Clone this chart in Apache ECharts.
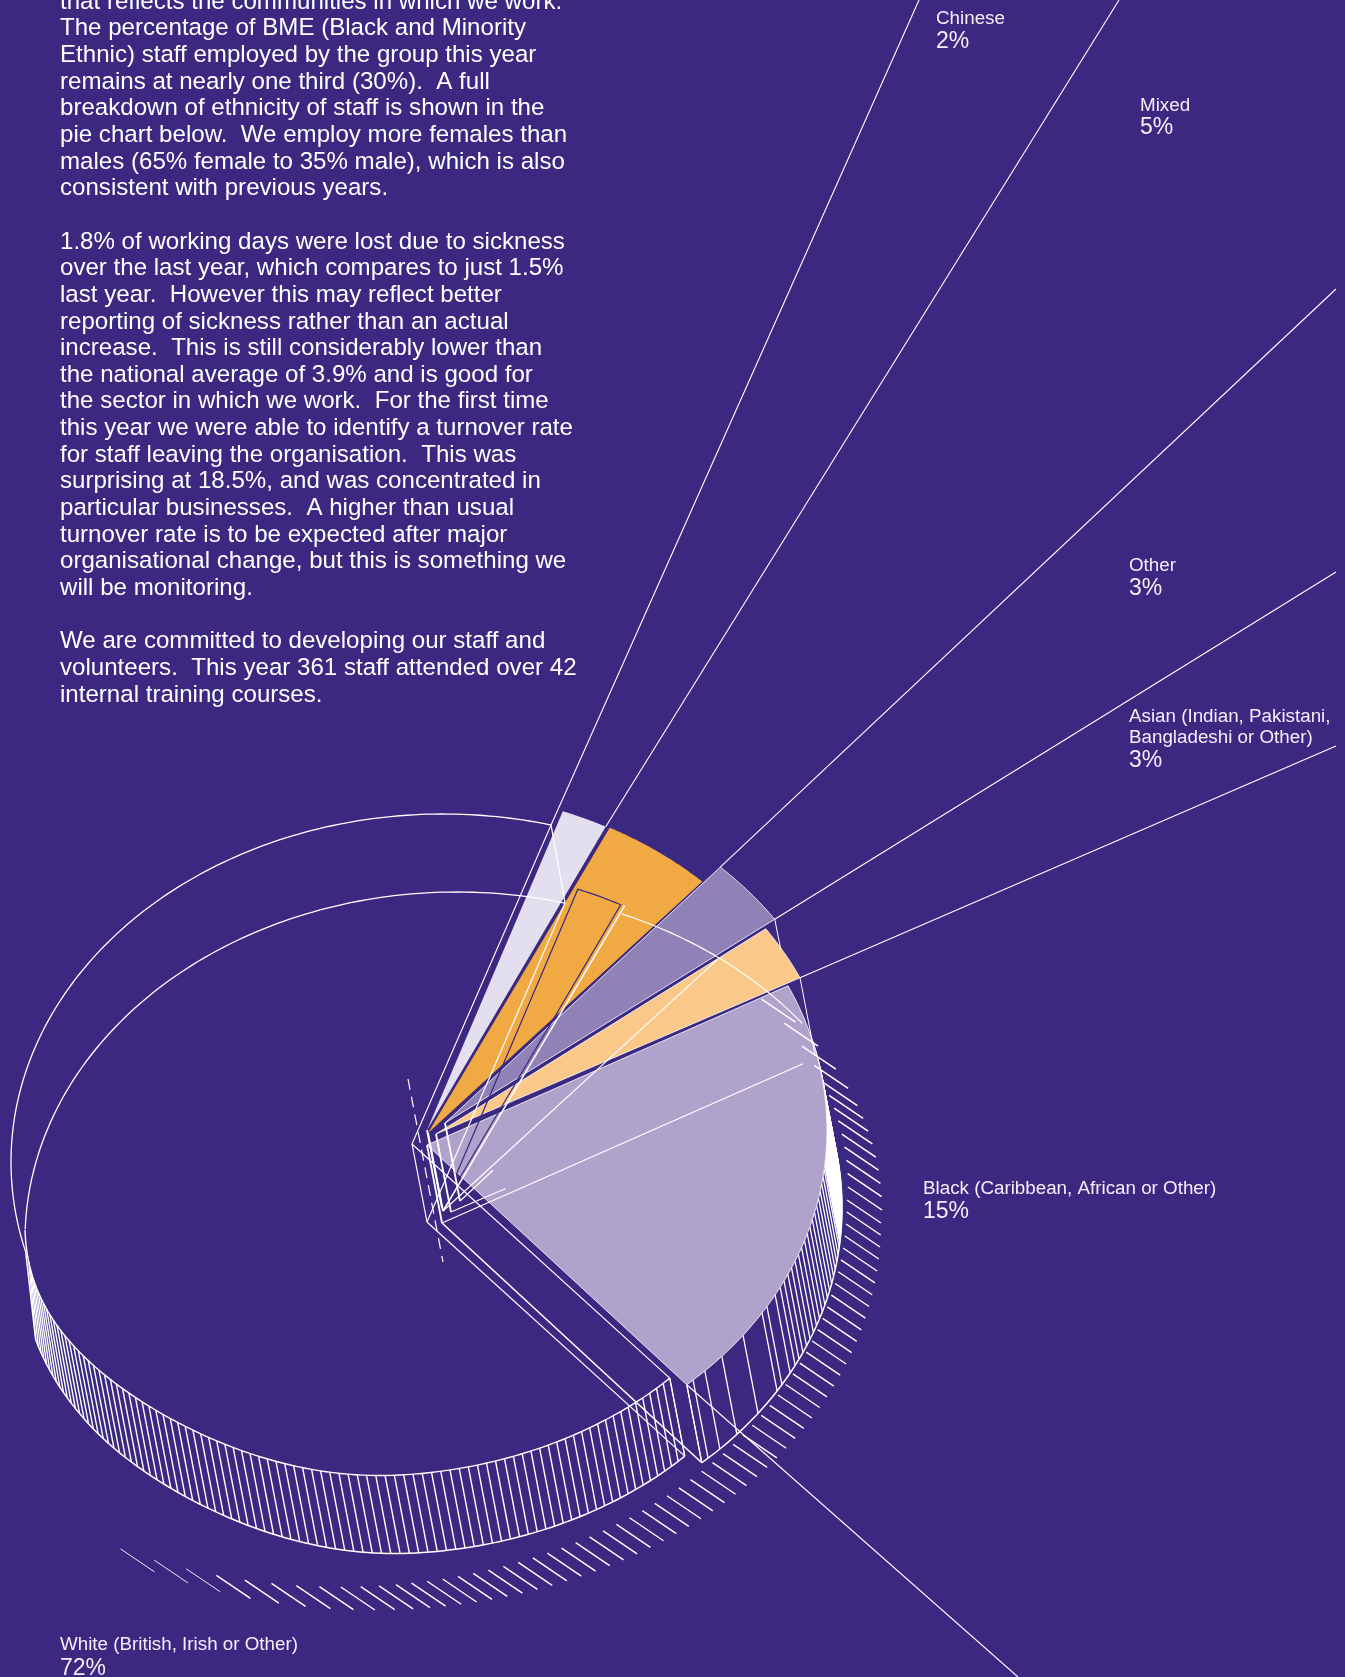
<!DOCTYPE html>
<html>
<head>
<meta charset="utf-8">
<style>html,body{margin:0;padding:0;background:#3A2881}#chart{width:1345px;height:1677px}</style>
<script src="https://cdn.jsdelivr.net/npm/echarts@6/dist/echarts.min.js"></script>
</head>
<body>
<div id="chart"></div>
<script>
// Staff ethnicity shares, in percent, in the order the slices run round the pie.
const categories = [
  'Chinese',
  'Mixed',
  'Other',
  'Asian (Indian, Pakistani,\nBangladeshi or Other)',
  'Black (Caribbean, African or Other)',
  'White (British, Irish or Other)'
];
const shares = [2, 5, 3, 3, 15, 72];

const reportText = [
  'that reflects the communities in which we work.',
  'The percentage of BME (Black and Minority',
  'Ethnic) staff employed by the group this year',
  'remains at nearly one third (30%).  A full',
  'breakdown of ethnicity of staff is shown in the',
  'pie chart below.  We employ more females than',
  'males (65% female to 35% male), which is also',
  'consistent with previous years.',
  '',
  '1.8% of working days were lost due to sickness',
  'over the last year, which compares to just 1.5%',
  'last year.  However this may reflect better',
  'reporting of sickness rather than an actual',
  'increase.  This is still considerably lower than',
  'the national average of 3.9% and is good for',
  'the sector in which we work.  For the first time',
  'this year we were able to identify a turnover rate',
  'for staff leaving the organisation.  This was',
  'surprising at 18.5%, and was concentrated in',
  'particular businesses.  A higher than usual',
  'turnover rate is to be expected after major',
  'organisational change, but this is something we',
  'will be monitoring.',
  '',
  'We are committed to developing our staff and',
  'volunteers.  This year 361 staff attended over 42',
  'internal training courses.'
];

// Styling and view settings of the tilted pie.
const BG = '#3A2881';
const INK = '#FFFFFF';
const FONT = '"Liberation Sans", Arial, sans-serif';
const sliceColors = ['#E4DFEE', '#F1A944', '#9082B6', '#FAC98A', '#AFA3CB', 'none'];
// How much of the turn each slice takes up once the disc is tilted towards the viewer.
const foreshorten = [0.93, 0.9, 1.1, 0.9, 1.389, 0.917];
const START_ANGLE = -70;
const EXTRUDE = [15, 78];
const RIM = { rx: 400, ry: 335 };
const rimCentres = [[426, 1126], [430, 1127], [448, 1112.5], [439, 1122], [427, 1130]];
const apexes = [[427, 1130], [428, 1133], [445, 1123], [436, 1134], [427, 1145]];
const labelAnchors = [[936, 18.5], [1140, 105.5], [1129, 565.5], [1129, 727], [923, 1188.5], [60, 1644.5]];
const valueOffsets = [23, 22, 23, 34, 23, 24];
// Where the leader of each slice runs off to.
const leaderEnds = { chinese: [919, 0], mixed: [1119, 0], otherIn: [1336, 289], otherOut: [1336, 572], asian: [1336, 746], black: [1018, 1677] };

const rad = d => d * Math.PI / 180;

// Angle span of each slice, taken from its share.
const spans = [];
(function () {
  let a = START_ANGLE;
  shares.forEach((v, i) => {
    const s = v / 100 * 360 * foreshorten[i];
    spans.push([a, a + s]);
    a += s;
  });
})();

// The open white slice has a flatter near edge than far edge.
const nearRim = t => {
  const flatten = t > 90 ? 13 * Math.pow(Math.sin(rad(2 * (t - 90))), 2) : 0;
  return [400 + 375 * Math.cos(rad(t)), 1205 + 270 * Math.sin(rad(t)) - 20 * Math.cos(rad(t)) - flatten];
};
// The wall leans less as it runs round to the far left.
const wallFoot = t => {
  const p = nearRim(t);
  const fade = t > 150 ? Math.pow((t - 150) / 30, 2) : 0;
  return [p[0] + EXTRUDE[0] * (1 - fade), p[1] + EXTRUDE[1]];
};
const farRim = s => [457 + 432 * Math.cos(rad(s)), 1240 + 348 * Math.sin(rad(s))];
const RAISE = [-14, -78];
const whiteStart = 44;
const whiteEnd = whiteStart + (spans[5][1] - spans[5][0]);
const whitePoint = p => p <= 179 ? nearRim(p) : farRim(p + 2.8);
const colourRim = (i, t) => [rimCentres[i][0] + RIM.rx * Math.cos(rad(t)), rimCentres[i][1] + RIM.ry * Math.sin(rad(t))];
const shift = (p, v) => [p[0] + v[0], p[1] + v[1]];
const raisedRim = s => shift(farRim(s), RAISE);
const arc = (fn, a, b, n) => {
  const out = [];
  for (let k = 0; k <= n; k++) out.push(fn(a + (b - a) * k / n));
  return out;
};
const stroke = (points, w, colour, dash) => ({
  type: 'polyline', silent: true,
  shape: { points },
  style: { fill: null, stroke: colour || INK, lineWidth: w, lineDash: dash, lineCap: 'butt' }
});

// Hatched side wall of the white and black slices, underneath the fills.
function renderSide(params) {
  const i = params.dataIndex;
  const kids = [];
  if (i === 5) {
    for (let t = whiteStart; t <= 172; t += 1.42) {
      kids.push(stroke([nearRim(t), wallFoot(t)], 1.4));
    }
    kids.push(stroke(arc(nearRim, whiteStart, 179, 120), 1.4));
    kids.push(stroke(arc(wallFoot, whiteStart, 172, 120).concat([raisedRim(165)]), 1.5));
  }
  if (i === 4) {
    const end = spans[4][1];
    const near = [0, 1.2, 3.5, 7, 11.7, 16.4, 17.7, 20, 21.5];
    const angles = near.map(d => end - d);
    for (let t = end - 22.7; t > 6; t -= 1.25) angles.push(t);
    for (let t = 6; t > -16; t -= 0.35) angles.push(t);
    angles.forEach(t => {
      const p = colourRim(4, t);
      kids.push(stroke([p, shift(p, EXTRUDE)], 1.3));
    });
    kids.push(stroke(arc(t => shift(colourRim(4, t), EXTRUDE), spans[4][0], end, 60), 1.5));
  }
  return { type: 'group', children: kids };
}

// Filled slices and their labels.
function renderFill(params, api) {
  const i = params.dataIndex;
  const kids = [];
  if (i < 5) {
    const pts = [apexes[i]].concat(arc(t => colourRim(i, t), spans[i][0], spans[i][1], 40));
    kids.push({
      type: 'polygon', silent: true,
      shape: { points: pts },
      style: { fill: sliceColors[i], stroke: i === 0 || i === 1 ? null : INK, lineWidth: 0.8 }
    });
  }
  const name = api.value(0) + '%';
  const at = labelAnchors[i];
  kids.push({
    type: 'text', x: at[0], y: at[1], silent: true,
    style: { text: categories[i], fill: '#F2EFF8', font: '18.8px ' + FONT, lineHeight: 21, verticalAlign: 'middle' }
  });
  kids.push({
    type: 'text', x: at[0], y: at[1] + valueOffsets[i], silent: true,
    style: { text: name, fill: '#F2EFF8', font: '23px ' + FONT, verticalAlign: 'middle' }
  });
  return { type: 'group', children: kids };
}

// Outlines laid over the fills: raised rim, lowered wedges, leaders, echo strokes.
function renderLines(params) {
  const i = params.dataIndex;
  const kids = [];
  const first = t => colourRim(i, spans[i][t]);
  if (i === 5) {
    const whiteApexHigh = [412, 1144];
    const whiteApexLow = shift(whiteApexHigh, EXTRUDE);
    const endNear = nearRim(whiteStart);
    const endFar = whitePoint(whiteEnd);
    const sEnd = whiteEnd + 2.8;
    kids.push(stroke(arc(farRim, 181.8, sEnd, 100), 1.3));
    kids.push(stroke(arc(raisedRim, 165, sEnd, 130), 1.3));
    kids.push(stroke([raisedRim(sEnd), endFar], 1.2));
    kids.push(stroke([whiteApexHigh, endNear], 1.2));
    kids.push(stroke([whiteApexHigh, whiteApexLow], 1.2));
    kids.push(stroke([whiteApexLow, shift(endNear, EXTRUDE)], 1.2));
    kids.push(stroke([endNear, shift(endNear, EXTRUDE)], 1));
    kids.push(stroke([whiteApexLow, endFar], 1.2));
    kids.push(stroke([whiteApexHigh, raisedRim(sEnd), leaderEnds.chinese], 1.1));
    kids.push(stroke([[408, 1079], [443, 1262]], 1.2, INK, [11, 7]));
    // Short echo strokes following the outside of the wall.
    const echo = (p, w) => kids.push(stroke([p, [p[0] + 34, p[1] + 23]], w));
    const steps = [-38, -32.5, -27.5, -23.5, -20, -17.5, -15, -12.5, -10, -7.5, -5, -2.5, 0];
    steps.forEach(t => echo([440 + 408 * Math.cos(rad(t)), 1187 + 305 * Math.sin(rad(t))], 1.5));
    let gap = 1.78;
    for (let t = 0; t < 118; t += gap) {
      echo([340 + 507 * Math.cos(rad(t)), 1200 + 387 * Math.sin(rad(t))], t > 105 ? 0.9 : 1.4);
      if (t > 83) gap *= 1.08;
    }
  } else {
    const low = shift(apexes[i], EXTRUDE);
    kids.push(stroke([apexes[i], low], 1.8));
    const lowA = shift(first(0), EXTRUDE);
    const lowB = shift(first(1), EXTRUDE);
    if (i === 0) {
      const wedge = [low].concat(arc(t => shift(colourRim(0, t), EXTRUDE), spans[0][0], spans[0][1], 12), [low]);
      kids.push(stroke(wedge, 1.2, BG));
      kids.push(stroke([first(1), leaderEnds.mixed], 1.1));
    }
    if (i === 1) {
      kids.push(stroke([low, lowA], 1.5));
      kids.push(stroke([low, lowB], 1.2));
      kids.push(stroke(arc(s => [457 + 438 * Math.cos(rad(s)), 1240 + 352 * Math.sin(rad(s))], -67.9, -38, 40), 1.2));
    }
    if (i === 2) {
      kids.push(stroke([first(0), leaderEnds.otherIn], 1.1));
      kids.push(stroke([first(1), leaderEnds.otherOut], 1.1));
      kids.push(stroke([first(1), shift(first(1), [6, 30])], 1));
      kids.push(stroke([low, [low[0] + (lowA[0] - low[0]) * 0.12, low[1] + (lowA[1] - low[1]) * 0.12]], 1.2));
    }
    if (i === 3) {
      kids.push(stroke([first(1), leaderEnds.asian], 1.1));
      kids.push(stroke([first(1), lowB], 1));
      kids.push(stroke([low, [low[0] + (lowB[0] - low[0]) * 0.15, low[1] + (lowB[1] - low[1]) * 0.15]], 1.2));
    }
    if (i === 4) {
      kids.push(stroke([low, lowA], 1.2));
      kids.push(stroke([low, lowB], 1.6));
      kids.push(stroke([first(1), lowB], 1.2));
      kids.push(stroke([first(1), leaderEnds.black], 1.1));
    }
  }
  return { type: 'group', children: kids };
}

const sliceData = categories.map((name, i) => ({ name, value: shares[i] }));

const chart = echarts.init(document.getElementById('chart'), null, { renderer: 'canvas' });
chart.setOption({
  backgroundColor: BG,
  animation: false,
  graphic: reportText.map((line, k) => ({
    type: 'text',
    silent: true,
    x: 60,
    y: 2.05 + k * 26.65,
    style: { text: line, fill: INK, font: '24.1px ' + FONT, verticalAlign: 'middle' }
  })),
  series: [
    { type: 'custom', coordinateSystem: 'none', silent: true, z: 1, data: sliceData, renderItem: renderSide },
    { type: 'custom', coordinateSystem: 'none', silent: true, z: 2, data: sliceData, renderItem: renderFill },
    { type: 'custom', coordinateSystem: 'none', silent: true, z: 3, data: sliceData, renderItem: renderLines }
  ]
});
</script>
</body>
</html>
